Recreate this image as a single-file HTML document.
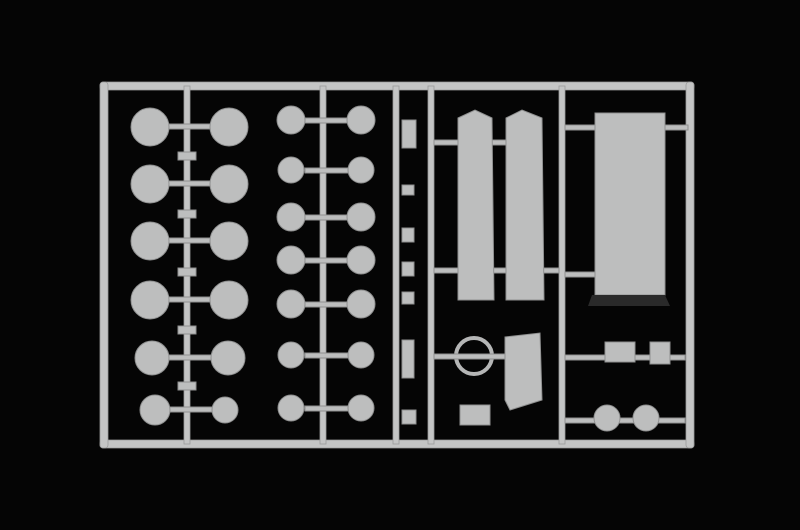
<!DOCTYPE html>
<html><head><style>html,body{margin:0;padding:0;background:#000;width:800px;height:530px;overflow:hidden}</style></head>
<body>
<svg width="800" height="530" viewBox="0 0 800 530" xmlns="http://www.w3.org/2000/svg">
<rect width="800" height="530" fill="#050505"/>
<g fill="#c4c5c5" stroke="#9a9b9b" stroke-width="0.8">
<!-- frame -->
<rect x="100" y="82" width="594" height="8" rx="3"/>
<rect x="100" y="440" width="594" height="8" rx="3"/>
<rect x="100" y="82" width="8" height="366" rx="3"/>
<rect x="686" y="82" width="8" height="366" rx="3"/>
<!-- verticals -->
<rect x="184" y="86" width="6" height="358"/>
<rect x="320" y="86" width="6" height="358"/>
<rect x="393" y="86" width="6" height="358"/>
<rect x="428" y="86" width="6" height="358"/>
<rect x="559" y="86" width="6" height="358"/>
</g>
<g fill="#bdbebe" stroke="#8f9090" stroke-width="1">
<!-- stubs left -->
<rect x="165" y="124" width="50" height="5"/><rect x="165" y="181" width="50" height="5"/>
<rect x="165" y="238" width="50" height="5"/><rect x="165" y="297" width="50" height="5"/>
<rect x="165" y="355" width="50" height="5"/><rect x="165" y="407" width="50" height="5"/>
<rect x="178" y="152" width="18" height="8"/><rect x="178" y="210" width="18" height="8"/><rect x="178" y="268" width="18" height="8"/><rect x="178" y="326" width="18" height="8"/><rect x="178" y="382" width="18" height="8"/>
<!-- left wheels -->
<circle cx="150" cy="127" r="19"/><circle cx="229" cy="127" r="19"/>
<circle cx="150" cy="184" r="19"/><circle cx="229" cy="184" r="19"/>
<circle cx="150" cy="241" r="19"/><circle cx="229" cy="241" r="19"/>
<circle cx="150" cy="300" r="19"/><circle cx="229" cy="300" r="19"/>
<circle cx="152" cy="358" r="17"/><circle cx="228" cy="358" r="17"/>
<circle cx="155" cy="410" r="15"/><circle cx="225" cy="410" r="13"/>
<!-- middle stubs -->
<rect x="305" y="118" width="45" height="5"/><rect x="305" y="168" width="45" height="5"/>
<rect x="305" y="215" width="45" height="5"/><rect x="305" y="258" width="45" height="5"/>
<rect x="305" y="302" width="45" height="5"/><rect x="305" y="353" width="45" height="5"/><rect x="305" y="406" width="45" height="5"/>
<circle cx="291" cy="120" r="14"/><circle cx="361" cy="120" r="14"/>
<circle cx="291" cy="170" r="13"/><circle cx="361" cy="170" r="13"/>
<circle cx="291" cy="217" r="14"/><circle cx="361" cy="217" r="14"/>
<circle cx="291" cy="260" r="14"/><circle cx="361" cy="260" r="14"/>
<circle cx="291" cy="304" r="14"/><circle cx="361" cy="304" r="14"/>
<circle cx="291" cy="355" r="13"/><circle cx="361" cy="355" r="13"/>
<circle cx="291" cy="408" r="13"/><circle cx="361" cy="408" r="13"/>
<!-- small parts col -->
<rect x="402" y="120" width="14" height="28"/><rect x="402" y="185" width="12" height="10"/><rect x="402" y="228" width="12" height="14"/><rect x="402" y="262" width="12" height="14"/><rect x="402" y="292" width="12" height="12"/><rect x="402" y="340" width="12" height="38"/><rect x="402" y="410" width="14" height="14"/>
<!-- hull sides -->
<rect x="434" y="140" width="25" height="5"/><rect x="434" y="268" width="125" height="5"/><rect x="490" y="140" width="20" height="5"/>
<path d="M458 118 L475 110 L492 118 L494 300 L458 300 Z"/>
<path d="M506 118 L522 110 L542 118 L544 300 L506 300 Z"/>
<!-- hull plate -->
<rect x="565" y="125" width="30" height="5"/><rect x="663" y="125" width="25" height="5"/><rect x="565" y="272" width="30" height="5"/>
<rect x="595" y="113" width="70" height="182"/>
<!-- lower parts -->
<circle cx="474" cy="356" r="18" fill="none" stroke-width="4" stroke="#b5b6b6"/>
<rect x="434" y="354" width="90" height="5"/>
<path d="M505 337 L540 333 L542 400 L510 410 L505 400 Z"/>
<rect x="565" y="355" width="120" height="5"/>
<rect x="605" y="342" width="30" height="20"/><rect x="650" y="342" width="20" height="22"/>
<rect x="565" y="418" width="120" height="5"/>
<circle cx="607" cy="418" r="13"/><circle cx="646" cy="418" r="13"/>
<rect x="460" y="405" width="30" height="20"/>
</g>
<path d="M592 295 L665 295 L670 306 L588 306 Z" fill="#2a2a2a"/>
</svg>
</body></html>
